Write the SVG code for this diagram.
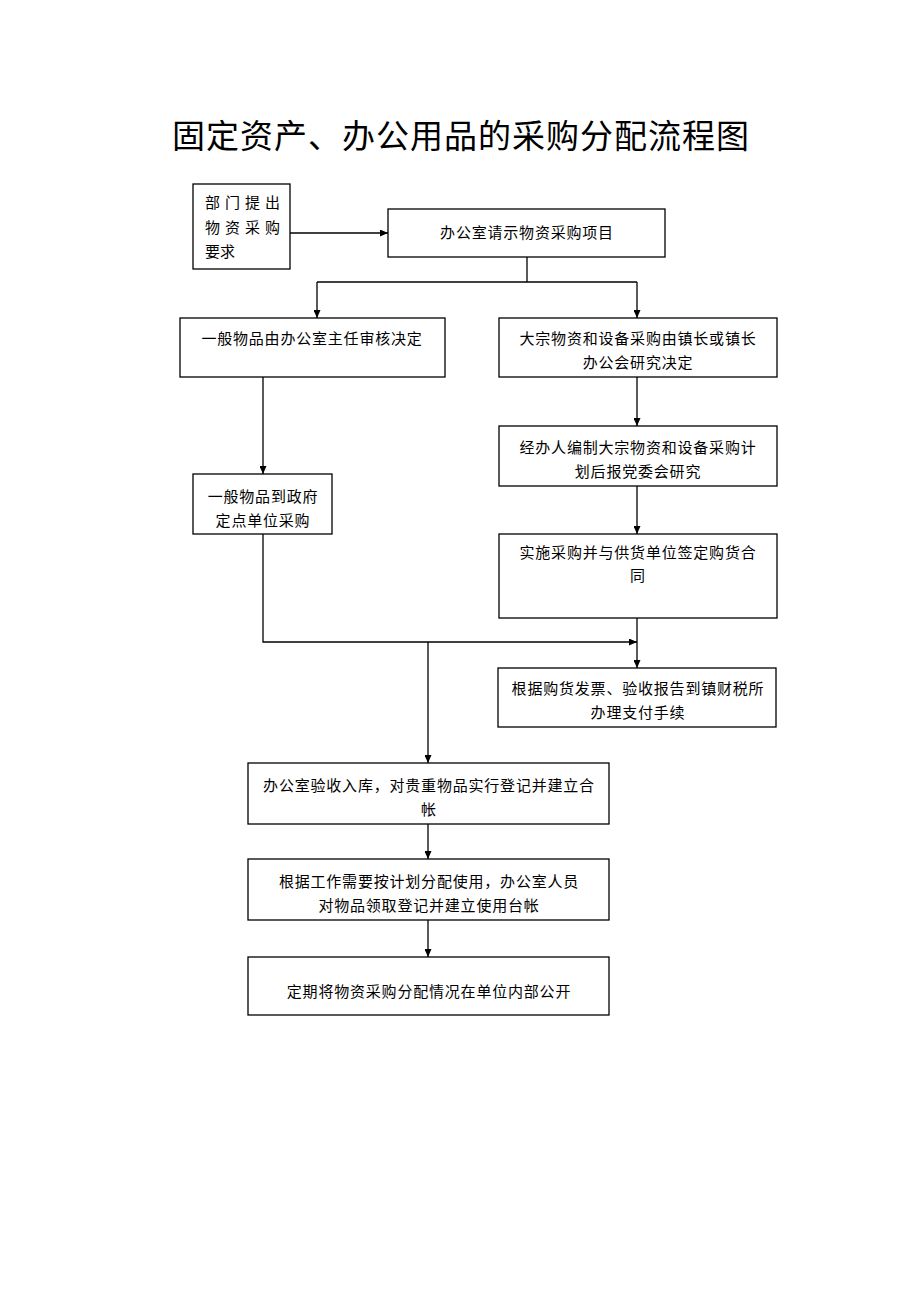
<svg xmlns="http://www.w3.org/2000/svg" width="920" height="1302" viewBox="0 0 920 1302">
<style>
.box{fill:#fff;stroke:#000;stroke-width:1.3}
.t{font-family:"Noto Sans CJK SC","Noto Sans CJK JP",sans-serif;font-size:15px;fill:#000;text-anchor:middle;letter-spacing:0.8px}
.tl{font-family:"Noto Sans CJK SC","Noto Sans CJK JP",sans-serif;font-size:15px;fill:#000;letter-spacing:5px}
.ttl{font-family:"Noto Sans CJK SC","Noto Sans CJK JP",sans-serif;font-size:33px;fill:#000;text-anchor:middle;letter-spacing:1px}
.c{fill:none;stroke:#000;stroke-width:1.3}
</style>
<defs>
<marker id="ah" viewBox="0 0 8 7" refX="8" refY="3.5" markerWidth="8" markerHeight="7" markerUnits="userSpaceOnUse" orient="auto">
<path d="M0,0 L8,3.5 L0,7 z" fill="#000"/>
</marker>
</defs>
<rect width="920" height="1302" fill="#fff"/>
<text class="ttl" x="461" y="148">固定资产、办公用品的采购分配流程图</text>

<g id="connectors">
<path class="c" d="M290,233 H388" marker-end="url(#ah)"/>
<path class="c" d="M527,257 V282"/>
<path class="c" d="M317,282 H637"/>
<path class="c" d="M317,282 V318" marker-end="url(#ah)"/>
<path class="c" d="M637,282 V318" marker-end="url(#ah)"/>
<path class="c" d="M263,377 V474" marker-end="url(#ah)"/>
<path class="c" d="M637,377 V426" marker-end="url(#ah)"/>
<path class="c" d="M637,486 V534" marker-end="url(#ah)"/>
<path class="c" d="M263,534 V642 H637" marker-end="url(#ah)"/>
<path class="c" d="M637,618 V668" marker-end="url(#ah)"/>
<path class="c" d="M428,642 V763" marker-end="url(#ah)"/>
<path class="c" d="M428,824 V859" marker-end="url(#ah)"/>
<path class="c" d="M428,920 V957" marker-end="url(#ah)"/>
</g>

<g id="n1">
<rect class="box" x="193" y="184" width="97" height="85"/>
<text class="tl" x="205" y="208">部门提出</text>
<text class="tl" x="205" y="233">物资采购</text>
<text class="tl" x="205" y="257" style="letter-spacing:0">要求</text>
</g>
<g id="n2">
<rect class="box" x="388" y="209" width="277" height="48"/>
<text class="t" x="527" y="238">办公室请示物资采购项目</text>
</g>
<g id="n3">
<rect class="box" x="180" y="318" width="265" height="59"/>
<text class="t" x="312" y="344">一般物品由办公室主任审核决定</text>
</g>
<g id="n4">
<rect class="box" x="499" y="318" width="278" height="59"/>
<text class="t" x="638" y="344">大宗物资和设备采购由镇长或镇长</text>
<text class="t" x="638" y="368">办公会研究决定</text>
</g>
<g id="n5">
<rect class="box" x="193" y="474" width="139" height="60"/>
<text class="t" x="263" y="502">一般物品到政府</text>
<text class="t" x="263" y="526">定点单位采购</text>
</g>
<g id="n6">
<rect class="box" x="499" y="426" width="278" height="60"/>
<text class="t" x="638" y="453">经办人编制大宗物资和设备采购计</text>
<text class="t" x="638" y="477">划后报党委会研究</text>
</g>
<g id="n7">
<rect class="box" x="499" y="534" width="278" height="84"/>
<text class="t" x="638" y="558">实施采购并与供货单位签定购货合</text>
<text class="t" x="638" y="581">同</text>
</g>
<g id="n8">
<rect class="box" x="498" y="668" width="278" height="59"/>
<text class="t" x="638" y="694">根据购货发票、验收报告到镇财税所</text>
<text class="t" x="638" y="718">办理支付手续</text>
</g>
<g id="n9">
<rect class="box" x="248" y="763" width="361" height="61"/>
<text class="t" x="429" y="791">办公室验收入库，对贵重物品实行登记并建立合</text>
<text class="t" x="429" y="815">帐</text>
</g>
<g id="n10">
<rect class="box" x="248" y="859" width="361" height="61"/>
<text class="t" x="429" y="887">根据工作需要按计划分配使用，办公室人员</text>
<text class="t" x="429" y="911">对物品领取登记并建立使用台帐</text>
</g>
<g id="n11">
<rect class="box" x="248" y="957" width="361" height="58"/>
<text class="t" x="429" y="997">定期将物资采购分配情况在单位内部公开</text>
</g>
</svg>
